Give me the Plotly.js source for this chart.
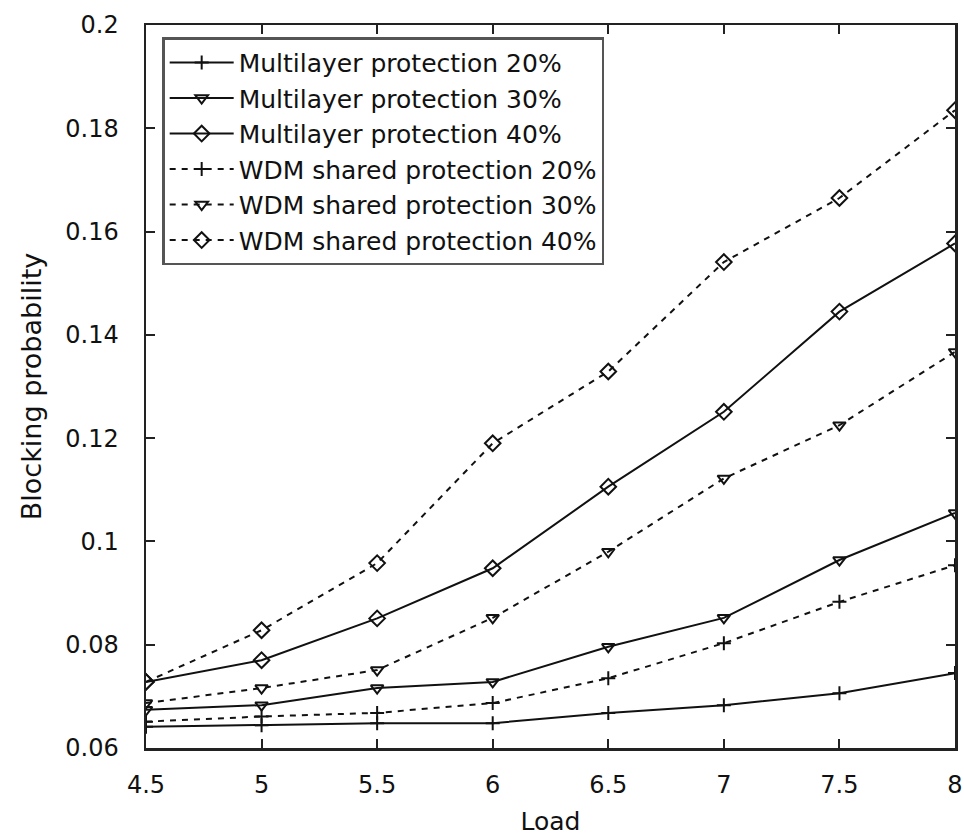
<!DOCTYPE html>
<html>
<head>
<meta charset="utf-8">
<script src="https://cdn.plot.ly/plotly-3.0.1.min.js"></script>
<style>html,body{margin:0;padding:0;background:#fff;}#chart{width:964px;height:836px;}</style>
</head>
<body>
<div id="chart"></div>
<script>
// Data
var load = [4.5, 5, 5.5, 6, 6.5, 7, 7.5, 8];
var multilayer20 = [0.0641, 0.0644, 0.0648, 0.0648, 0.0668, 0.0683, 0.0706, 0.0745];
var multilayer30 = [0.0674, 0.0683, 0.0716, 0.0728, 0.0796, 0.0852, 0.0964, 0.1055];
var multilayer40 = [0.0728, 0.0770, 0.0851, 0.0948, 0.1106, 0.1251, 0.1445, 0.1577];
var wdm20 = [0.0651, 0.0661, 0.0668, 0.0687, 0.0735, 0.0803, 0.0883, 0.0954];
var wdm30 = [0.0687, 0.0716, 0.0751, 0.0852, 0.0980, 0.1122, 0.1225, 0.1367];
var wdm40 = [0.0728, 0.0828, 0.0958, 0.1190, 0.1329, 0.1541, 0.1665, 0.1835];
var seriesNames = [
  "Multilayer protection 20%",
  "Multilayer protection 30%",
  "Multilayer protection 40%",
  "WDM shared protection 20%",
  "WDM shared protection 30%",
  "WDM shared protection 40%"
];
var xTitle = "Load";
var yTitle = "Blocking probability";

var FONT = "DejaVu Sans, Open Sans, sans-serif";
function mk(y, name, symbol, size, dash) {
  return {
    x: load, y: y, name: name, type: "scatter", mode: "lines+markers",
    line: {color: "#111", width: 2, dash: dash},
    marker: {symbol: symbol, size: size, color: "#111", line: {color: "#111", width: 2}}
  };
}
var traces = [
  mk(multilayer20, seriesNames[0], "cross-thin-open", 10, "solid"),
  mk(multilayer30, seriesNames[1], "triangle-down-open", 11, "solid"),
  mk(multilayer40, seriesNames[2], "diamond-open", 12, "solid"),
  mk(wdm20, seriesNames[3], "cross-thin-open", 10, "6px,6px"),
  mk(wdm30, seriesNames[4], "triangle-down-open", 11, "6px,6px"),
  mk(wdm40, seriesNames[5], "diamond-open", 12, "6px,6px")
];
var axisCommon = {
  showline: true, linecolor: "#222", linewidth: 2.5, mirror: "ticks",
  ticks: "inside", ticklen: 9, tickwidth: 2, tickcolor: "#222",
  showgrid: false, zeroline: false,
  tickfont: {family: FONT, size: 24, color: "#111"}
};
var layout = {
  width: 964, height: 836,
  margin: {l: 146, r: 9, t: 25, b: 88},
  paper_bgcolor: "#fff", plot_bgcolor: "#fff",
  showlegend: true,
  xaxis: Object.assign({}, axisCommon, {
    range: [4.5, 8], dtick: 0.5, tick0: 4.5, ticklabelstandoff: 14,
    title: {text: xTitle, font: {family: FONT, size: 25, color: "#111"}, standoff: 19}
  }),
  yaxis: Object.assign({}, axisCommon, {
    range: [0.06, 0.2], dtick: 0.02, tick0: 0.06, ticklabelstandoff: 20,
    title: {text: yTitle, font: {family: FONT, size: 27, color: "#111"}, standoff: 16}
  }),
  legend: {
    x: 0.02, y: 0.983, xanchor: "left", yanchor: "top",
    bgcolor: "#fff", bordercolor: "#555", borderwidth: 2.5,
    font: {family: FONT, size: 25, color: "#111"},
    tracegroupgap: 0, itemwidth: 64
  }
};
Plotly.newPlot("chart", traces, layout, {staticPlot: true, displayModeBar: false});
</script>
</body>
</html>
